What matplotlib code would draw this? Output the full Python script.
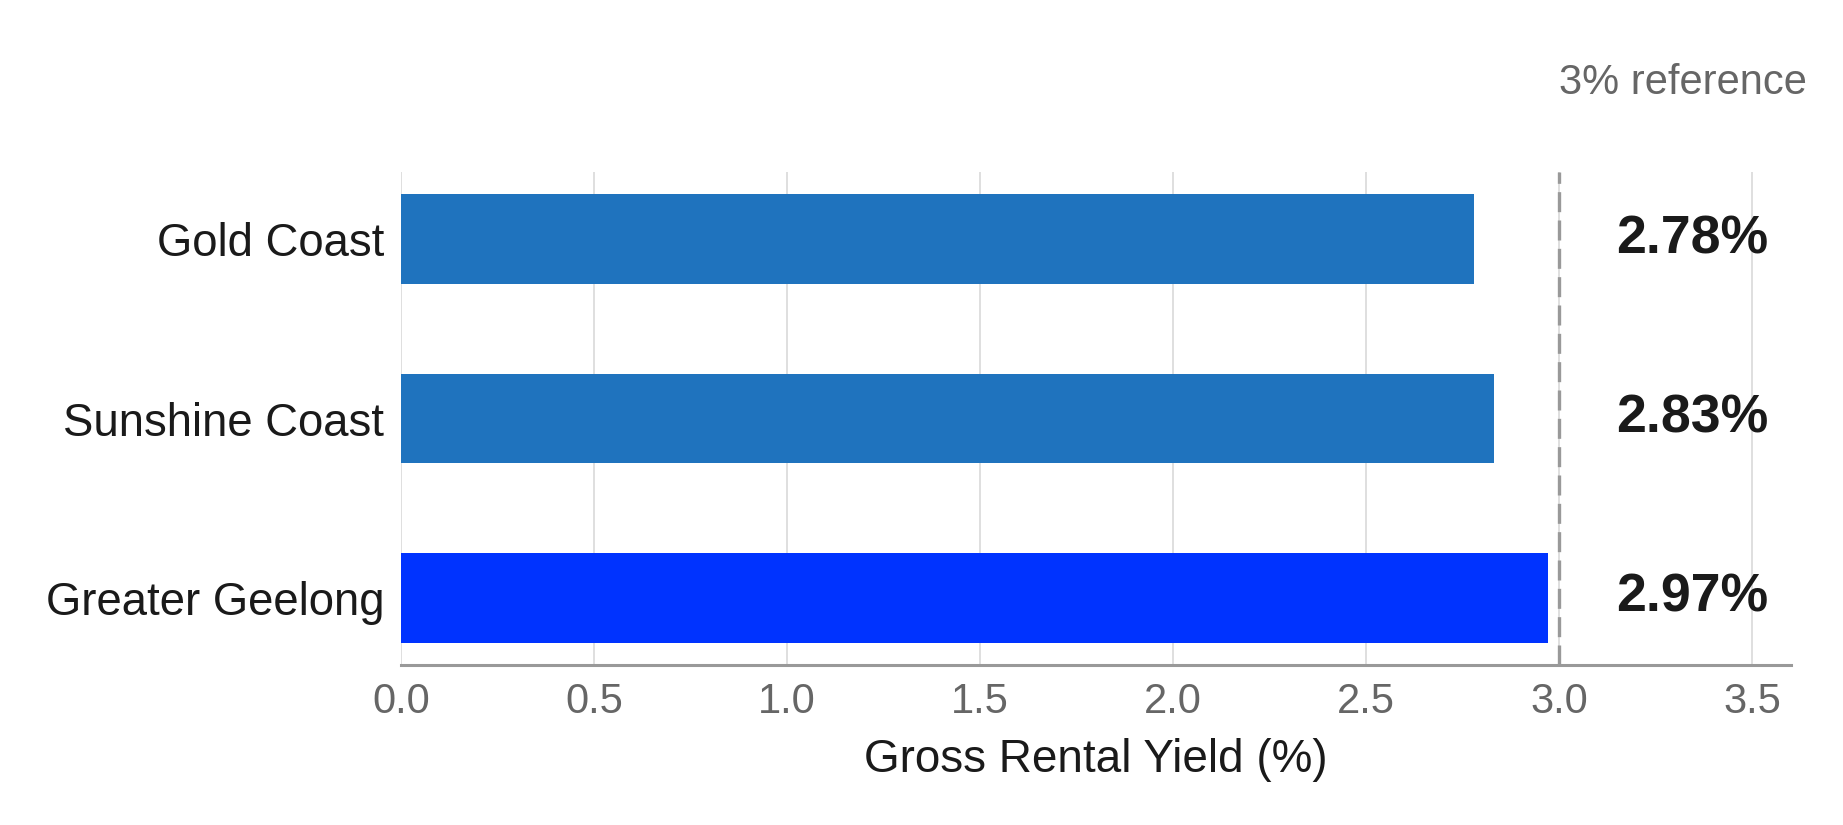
import matplotlib
matplotlib.use("Agg")
from matplotlib import pyplot as plt

regions = ["Gold Coast", "Sunshine Coast", "Greater Geelong"]
yields = [2.78, 2.83, 2.97]
bar_colors = ["#1f73be", "#1f73be", "#0033ff"]
x_ticks = [0.0, 0.5, 1.0, 1.5, 2.0, 2.5, 3.0, 3.5]
reference = 3.0

plt.rcParams["font.family"] = ["Liberation Sans", "DejaVu Sans"]

fig = plt.figure(figsize=(9.215, 4.125), dpi=200)
ax = fig.add_axes([401 / 1843, 1 - 665 / 825, 1390 / 1843, 493 / 825])

y_pos = list(range(len(regions)))
ax.barh(y_pos, yields, height=0.5, color=bar_colors, zorder=2)
ax.invert_yaxis()

ax.set_xlim(0, 3.6)
ax.set_xticks(x_ticks)
ax.set_xticklabels([f"{t:.1f}" for t in x_ticks])
ax.set_yticks(y_pos)
ax.set_yticklabels(regions)

ax.grid(axis="x", color="#d9d9d9", linewidth=0.6, zorder=0)
ax.grid(axis="y", visible=False)
ax.set_axisbelow(True)
for side in ["top", "right", "left"]:
    ax.spines[side].set_visible(False)
ax.spines["bottom"].set_color("#999999")
ax.spines["bottom"].set_linewidth(1.1)
ax.spines["bottom"].set_zorder(3)

ax.tick_params(axis="x", length=0, pad=6, labelsize=15, labelcolor="#666666")
ax.tick_params(axis="y", length=0, pad=6, labelsize=16.4, labelcolor="#1a1a1a")

ax.axvline(reference, color="#999999", linewidth=1.2, linestyle=(0, (6, 2.5)), zorder=3)
ax.text(reference, 1.18, "3% reference", transform=ax.get_xaxis_transform(),
        ha="left", va="center", fontsize=15, color="#666666")

for y, v in zip(y_pos, yields):
    ax.text(3.148, y, f"{v:.2f}%", ha="left", va="center",
            fontsize=19.3, fontweight="bold", color="#1a1a1a")

ax.set_xlabel("Gross Rental Yield (%)", fontsize=16.5, color="#1a1a1a", labelpad=6)

fig.savefig("out.png", dpi=200)
